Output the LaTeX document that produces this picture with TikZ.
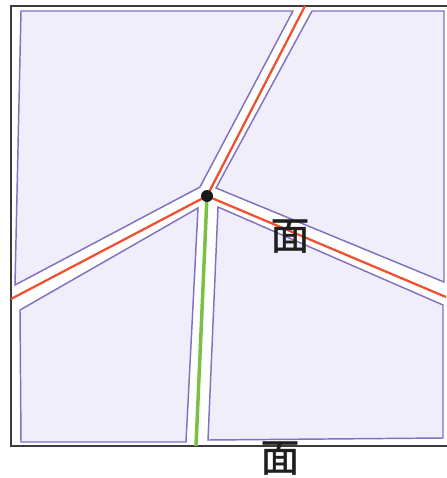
\documentclass[tikz,border=0pt]{standalone}
\usepackage{fontspec}
\newfontfamily\cjk[BoldFont={Noto Sans CJK SC},BoldFeatures={FakeBold=1.2}]{Noto Sans CJK SC}
\definecolor{cellfill}{RGB}{240,238,250}
\definecolor{celldraw}{RGB}{130,112,195}
\definecolor{redline}{RGB}{238,80,48}
\definecolor{greenline}{RGB}{122,192,66}
\definecolor{framecol}{RGB}{60,60,60}
\begin{document}
\begin{tikzpicture}[x=0.75pt,y=-0.75pt,
  cell/.style={fill=cellfill,draw=celldraw,line width=1.1pt,line join=miter},
  edgered/.style={draw=redline,line width=1.7pt},
  edgegreen/.style={draw=greenline,line width=2.6pt},
  lbl/.style={font=\cjk\bfseries\fontsize{29}{29}\selectfont,inner sep=0pt,text=black!88}]
\useasboundingbox (0,0) rectangle (446,478);
\fill[white] (0,0) rectangle (446,478);
\draw[framecol,line width=1.1pt] (11,6) rectangle (454,446);
\draw[cell] (21,11) -- (293,11) -- (200,187) -- (15,285) -- cycle;
\draw[cell] (312,11) -- (444,11) -- (444,282) -- (216,188) -- cycle;
\draw[cell] (20,310) -- (198,208) -- (186,442) -- (21,442) -- cycle;
\draw[cell] (218,207) -- (443,305) -- (443,438) -- (208,440) -- cycle;
\coordinate (c) at (207,196);
\coordinate (t) at (305,6);
\coordinate (l) at (11,299);
\coordinate (r) at (446,297);
\coordinate (b) at (196,446);
\draw[edgered] (c) -- (t);
\draw[edgered] (c) -- (l);
\draw[edgered] (c) -- (r);
\draw[edgegreen] (c) -- (b);
\fill[black!90] (c) circle (6);
\node[lbl] (f1) at (290,236) {面};
\node[lbl] (f2) at (280,458) {面};
\end{tikzpicture}
\end{document}
